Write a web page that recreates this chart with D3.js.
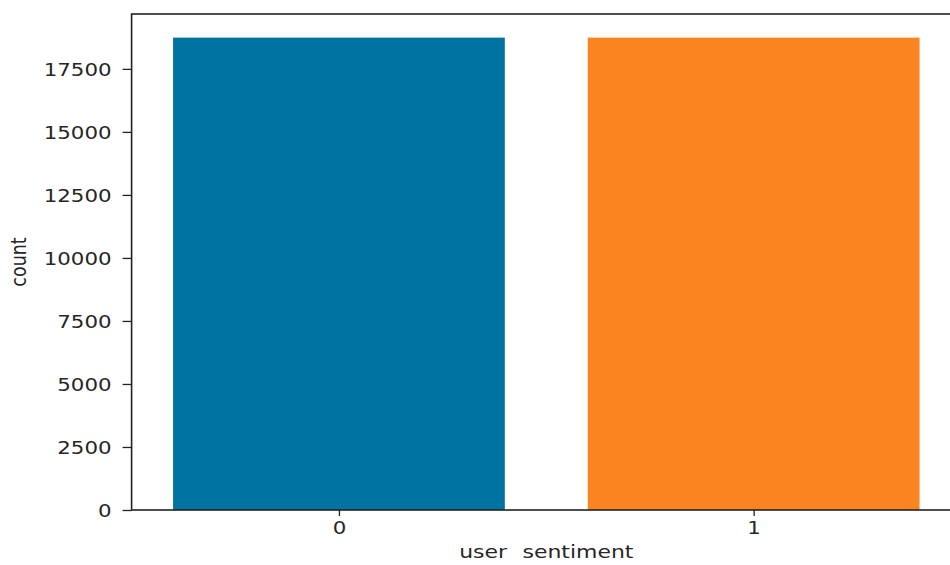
<!DOCTYPE html>
<html>
<head>
<meta charset="utf-8">
<script src="https://cdn.jsdelivr.net/npm/d3@7"></script>
<style>
  html, body { margin: 0; padding: 0; background: #fff; }
  text { font-family: "DejaVu Sans", sans-serif; fill: #262626; }
</style>
</head>
<body>
<svg id="chart" width="950" height="565"></svg>
<script>
const categories = ["0", "1"];
const counts = [18740, 18740];
const yTicks = [0, 2500, 5000, 7500, 10000, 12500, 15000, 17500];
const barColors = ["#0173A2", "#FA841F"];
const xLabel = "user sentiment";
const yLabel = "count";

(function () {
const svg = d3.select("#chart");
const mLeft = 131.6, mRight = 961, mTop = 14, mBottom = 510;
const stretch = 1.22;
const fontSize = 17.5;

const x = d3.scaleLinear().domain([-0.5, categories.length - 0.5]).range([mLeft, mRight]);
const y = d3.scaleLinear().domain([0, d3.max(counts) * 1.05]).range([mBottom, mTop]);

// bars
svg.append("g").selectAll("rect").data(counts).join("rect")
  .attr("x", (d, i) => x(i - 0.4))
  .attr("width", (d, i) => x(i + 0.4) - x(i - 0.4))
  .attr("y", d => y(d))
  .attr("height", d => y(0) - y(d))
  .attr("fill", (d, i) => barColors[i]);

// y axis
const yAxis = svg.append("g").attr("transform", `translate(${mLeft},0)`)
  .call(d3.axisLeft(y).tickValues(yTicks).tickSize(9).tickFormat(d3.format("d")));
yAxis.select(".domain").remove();
yAxis.selectAll(".tick line").attr("stroke", "#222").attr("stroke-width", 1.3);
yAxis.selectAll(".tick text")
  .attr("x", -20 / stretch)
  .attr("dy", "0.36em")
  .attr("transform", `scale(${stretch},1)`)
  .style("font-size", fontSize + "px")
  .style("font-family", "DejaVu Sans")
  .attr("fill", "#262626");

// x axis
const xAxis = svg.append("g").attr("transform", `translate(0,${mBottom})`)
  .call(d3.axisBottom(x).tickValues(categories.map((c, i) => i)).tickSize(6)
    .tickFormat(i => categories[i]));
xAxis.select(".domain").remove();
xAxis.selectAll(".tick line").attr("stroke", "#222").attr("stroke-width", 1.3);
xAxis.selectAll(".tick text")
  .attr("y", 24)
  .attr("dy", 0)
  .attr("transform", `scale(${stretch},1)`)
  .style("font-size", fontSize + "px")
  .style("font-family", "DejaVu Sans")
  .attr("fill", "#262626");

// frame (spines)
svg.append("rect")
  .attr("x", mLeft).attr("y", mTop)
  .attr("width", mRight - mLeft).attr("height", mBottom - mTop)
  .attr("fill", "none").attr("stroke", "#222").attr("stroke-width", 1.6);

// x label
svg.append("text")
  .attr("transform", `translate(${(mLeft + mRight) / 2},558) scale(${stretch},1)`)
  .attr("text-anchor", "middle")
  .style("font-size", "18px")
  .style("word-spacing", "7px")
  .text(xLabel);

// y label
svg.append("text")
  .attr("transform", `translate(26,${(mTop + mBottom) / 2}) scale(${stretch},1) rotate(-90)`)
  .attr("text-anchor", "middle")
  .style("font-size", fontSize + "px")
  .text(yLabel);
})();
</script>
</body>
</html>
